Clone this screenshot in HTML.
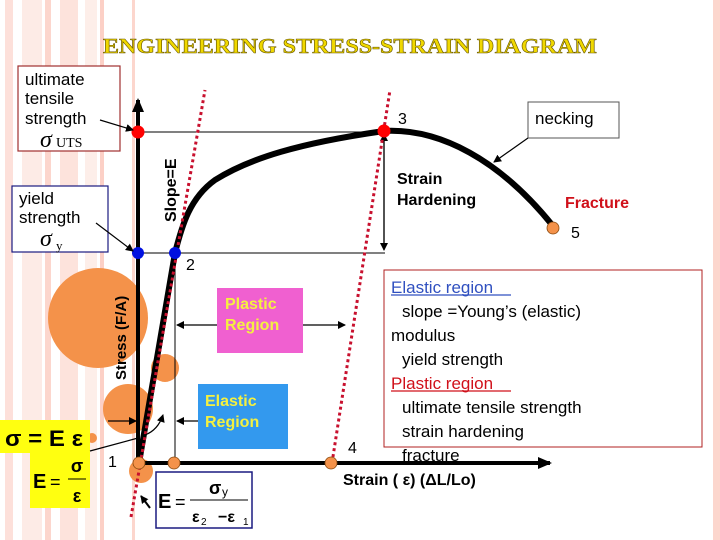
<!DOCTYPE html>
<html><head><meta charset="utf-8"><style>
html,body{margin:0;padding:0;background:#fff}
svg{display:block}
text{font-family:"Liberation Sans",sans-serif}
.serif{font-family:"Liberation Serif",serif}
</style></head><body>
<svg width="720" height="540" viewBox="0 0 720 540" xmlns="http://www.w3.org/2000/svg">
<defs>
<marker id="ah" markerWidth="8" markerHeight="8" refX="7" refY="4" orient="auto" markerUnits="userSpaceOnUse"><path d="M0,0 L8,4 L0,8 z" fill="#000"/></marker>
<marker id="ahb" markerWidth="14" markerHeight="14" refX="12" refY="7" orient="auto" markerUnits="userSpaceOnUse"><path d="M0,1 L14,7 L0,13 z" fill="#000"/></marker>
</defs>
<rect x="5" y="0" width="8" height="540" fill="#fde0da"/>
<rect x="22" y="0" width="20" height="540" fill="#fdebe6"/>
<rect x="45" y="0" width="6" height="540" fill="#fcd6cd"/>
<rect x="60" y="0" width="18" height="540" fill="#fde3dc"/>
<rect x="85" y="0" width="12" height="540" fill="#fdeee9"/>
<rect x="100" y="0" width="4" height="540" fill="#fcd0c6"/>
<rect x="132" y="0" width="3" height="540" fill="#fcd6cd"/>
<rect x="713" y="0" width="7" height="540" fill="#fcd6cd"/>
<circle cx="98" cy="318" r="50" fill="#f4924a"/>
<circle cx="128" cy="409" r="25" fill="#f4924a"/>
<circle cx="165" cy="368" r="14" fill="#f4924a"/>
<circle cx="92" cy="438" r="5" fill="#f4924a"/>
<circle cx="141" cy="471" r="12" fill="#f4924a"/>
<text x="103" y="53" class="serif" font-weight="bold" font-size="21" fill="#f0d800" stroke="#6b5a00" stroke-width="0.6" textLength="494" lengthAdjust="spacingAndGlyphs">ENGINEERING STRESS-STRAIN DIAGRAM</text>
<line x1="138" y1="132" x2="385" y2="132" stroke="#000" stroke-width="1"/>
<line x1="138" y1="253" x2="385" y2="253" stroke="#000" stroke-width="1"/>
<line x1="175" y1="253" x2="175" y2="463" stroke="#000" stroke-width="1"/>
<line x1="384" y1="140" x2="384" y2="250" stroke="#000" stroke-width="1.2" marker-end="url(#ah)"/>
<line x1="384" y1="245" x2="384" y2="134" stroke="#000" stroke-width="1.2" marker-end="url(#ah)"/>
<line x1="138" y1="463" x2="138" y2="100" stroke="#000" stroke-width="4" marker-end="url(#ahb)"/>
<line x1="138" y1="463" x2="550" y2="463" stroke="#000" stroke-width="4" marker-end="url(#ahb)"/>
<path d="M139,463 L175,253 C182,225 190,198 215,180 C250,158 300,143 384,131 C440,128 500,160 553,226" fill="none" stroke="#000" stroke-width="6"/>
<line x1="131" y1="517" x2="205" y2="90" stroke="#c8102e" stroke-width="3" stroke-dasharray="3,3"/>
<line x1="332" y1="463" x2="390" y2="90" stroke="#c8102e" stroke-width="3" stroke-dasharray="3,3"/>
<circle cx="138" cy="132" r="6.5" fill="#f00"/>
<circle cx="384" cy="131" r="6.5" fill="#f00"/>
<circle cx="138" cy="253" r="6" fill="#0010e0"/>
<circle cx="175" cy="253" r="6" fill="#0010e0"/>
<circle cx="139" cy="463" r="6" fill="#f4924a" stroke="#8a4a10" stroke-width="0.8"/>
<circle cx="174" cy="463" r="6" fill="#f4924a" stroke="#8a4a10" stroke-width="0.8"/>
<circle cx="331" cy="463" r="6" fill="#f4924a" stroke="#8a4a10" stroke-width="0.8"/>
<circle cx="553" cy="228" r="6" fill="#f4924a" stroke="#8a4a10" stroke-width="0.8"/>
<text x="398" y="124" font-size="16">3</text>
<text x="186" y="270" font-size="16">2</text>
<text x="108" y="467" font-size="16">1</text>
<text x="348" y="453" font-size="16">4</text>
<text x="571" y="238" font-size="16">5</text>
<text x="397" y="184" font-size="16" font-weight="bold">Strain</text>
<text x="397" y="205" font-size="16" font-weight="bold">Hardening</text>
<text x="565" y="208" font-size="16" font-weight="bold" fill="#d0101a">Fracture</text>
<rect x="528" y="102" width="91" height="36" fill="#fff" stroke="#555" stroke-width="1"/>
<text x="535" y="124" font-size="17">necking</text>
<line x1="528" y1="138" x2="494" y2="162" stroke="#000" stroke-width="1.2" marker-end="url(#ah)"/>
<text transform="translate(176,222) rotate(-90)" font-size="16" font-weight="bold">Slope=E</text>
<text transform="translate(126,380) rotate(-90)" font-size="15" font-weight="bold">Stress  (F/A)</text>
<rect x="18" y="66" width="102" height="85" fill="#fff" stroke="#a03030" stroke-width="1.2"/>
<text x="25" y="85" font-size="17">ultimate</text>
<text x="25" y="104" font-size="17">tensile</text>
<text x="25" y="124" font-size="17">strength</text>
<text x="40" y="147" font-size="24" class="serif" font-style="italic">σ</text>
<text x="56" y="147" font-size="14" class="serif">UTS</text>
<line x1="100" y1="120" x2="133" y2="130" stroke="#000" stroke-width="1.2" marker-end="url(#ah)"/>
<rect x="12" y="186" width="96" height="66" fill="#fff" stroke="#1a1a80" stroke-width="1.2"/>
<text x="19" y="204" font-size="17">yield</text>
<text x="19" y="223" font-size="17">strength</text>
<text x="40" y="246" font-size="24" class="serif" font-style="italic">σ</text>
<text x="56" y="250" font-size="13" class="serif">y</text>
<line x1="96" y1="223" x2="133" y2="251" stroke="#000" stroke-width="1.2" marker-end="url(#ah)"/>
<rect x="217" y="288" width="86" height="65" fill="#f060d0"/>
<text x="225" y="309" font-size="16" font-weight="bold" fill="#f4f040">Plastic</text>
<text x="225" y="330" font-size="16" font-weight="bold" fill="#f4f040">Region</text>
<line x1="217" y1="325" x2="177" y2="325" stroke="#000" stroke-width="1.2" marker-end="url(#ah)"/>
<line x1="303" y1="325" x2="345" y2="325" stroke="#000" stroke-width="1.2" marker-end="url(#ah)"/>
<rect x="198" y="384" width="90" height="65" fill="#3399ee"/>
<text x="205" y="406" font-size="16" font-weight="bold" fill="#f4f040">Elastic</text>
<text x="205" y="427" font-size="16" font-weight="bold" fill="#f4f040">Region</text>
<line x1="198" y1="421" x2="177" y2="421" stroke="#000" stroke-width="1.2" marker-end="url(#ah)"/>
<line x1="108" y1="421" x2="136" y2="421" stroke="#000" stroke-width="1.2" marker-end="url(#ah)"/>
<path d="M145,435 Q158,430 163,415" fill="none" stroke="#000" stroke-width="1.2" marker-end="url(#ah)"/>
<rect x="0" y="420" width="90" height="33" fill="#ffff10"/>
<rect x="30" y="453" width="60" height="55" fill="#ffff10"/>
<text x="5" y="446" font-size="22" font-weight="bold" textLength="78" lengthAdjust="spacingAndGlyphs">σ = E ε</text>
<text x="33" y="488" font-size="20" font-weight="bold">E</text>
<text x="50" y="488" font-size="18">=</text>
<text x="77" y="472" font-size="18" font-weight="bold" text-anchor="middle">σ</text>
<line x1="68" y1="479" x2="86" y2="479" stroke="#000" stroke-width="1"/>
<text x="77" y="502" font-size="18" font-weight="bold" text-anchor="middle">ε</text>
<line x1="90" y1="451" x2="138" y2="438" stroke="#000" stroke-width="1.2"/>
<rect x="156" y="472" width="96" height="56" fill="#fff" stroke="#1a1a80" stroke-width="1.5"/>
<text x="158" y="508" font-size="20" font-weight="bold">E</text>
<text x="175" y="508" font-size="18">=</text>
<text x="209" y="494" font-size="18" font-weight="bold">σ</text>
<text x="222" y="496" font-size="12">y</text>
<line x1="190" y1="500" x2="248" y2="500" stroke="#000" stroke-width="1"/>
<text x="192" y="522" font-size="16" font-weight="bold">ε</text><text x="201" y="525" font-size="10">2</text>
<text x="218" y="522" font-size="16" font-weight="bold">−ε</text><text x="243" y="525" font-size="10">1</text>
<line x1="150" y1="508" x2="141" y2="496" stroke="#000" stroke-width="2" marker-end="url(#ah)"/>
<rect x="384" y="270" width="318" height="177" fill="#fff" stroke="#b02020" stroke-width="1"/>
<g font-size="17">
<text x="391" y="293" fill="#3050c0">Elastic region</text>
<text x="402" y="317">slope =Young’s (elastic)</text>
<text x="391" y="341">modulus</text>
<text x="402" y="365">yield strength</text>
<text x="391" y="389" fill="#d0101a">Plastic region</text>
<text x="402" y="413">ultimate tensile strength</text>
<text x="402" y="437">strain hardening</text>
<text x="402" y="461">fracture</text>
</g>
<line x1="391" y1="295" x2="511" y2="295" stroke="#3050c0" stroke-width="1.2"/>
<line x1="391" y1="391" x2="511" y2="391" stroke="#d0101a" stroke-width="1.2"/>
<text x="343" y="485" font-size="16" font-weight="bold">Strain ( ε) (ΔL/Lo)</text>
</svg>
</body></html>
